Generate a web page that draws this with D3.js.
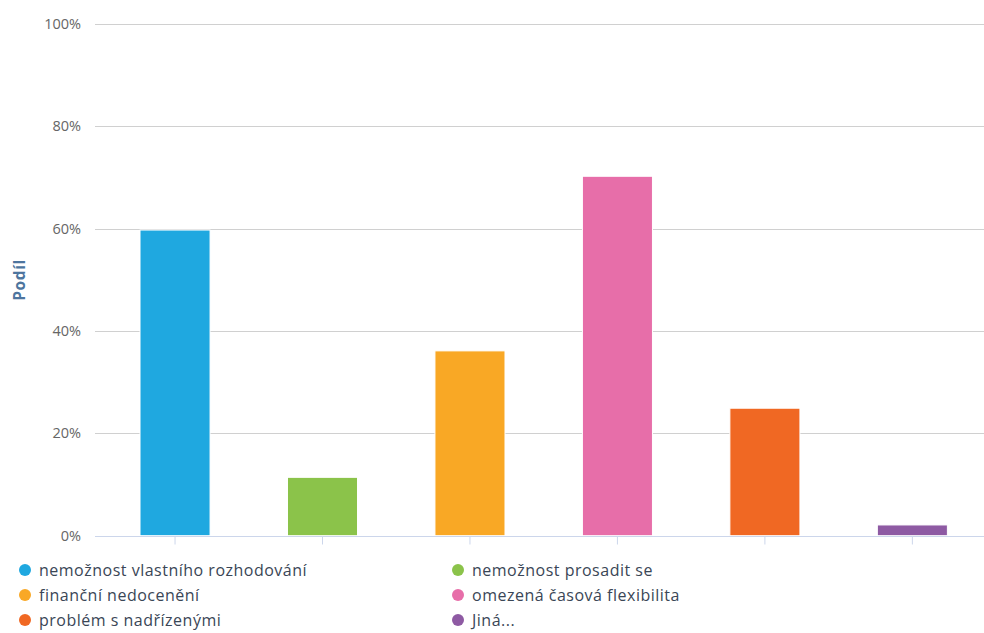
<!DOCTYPE html>
<html>
<head>
<meta charset="utf-8">
<script src="https://cdn.jsdelivr.net/npm/d3@7"></script>
<style>
  html, body { margin: 0; padding: 0; background: #fff; }
  svg { display: block; font-family: "Open Sans", "DejaVu Sans", sans-serif; }
</style>
</head>
<body>
<svg id="chart" width="984" height="633"></svg>
<script>
// Reasons and their shares (percent)
const categories = [
  "nemožnost vlastního rozhodování",
  "nemožnost prosadit se",
  "finanční nedocenění",
  "omezená časová flexibilita",
  "problém s nadřízenými",
  "Jiná..."
];
const shares = [59.7, 11.4, 36.1, 70.2, 24.9, 2.1];
const colors = ["#1fa8e0", "#8bc34a", "#f9a825", "#e76ea9", "#f06823", "#8e5aa3"];
const yTicks = [0, 20, 40, 60, 80, 100];
const yTitle = "Podíl";

const svg = d3.select("#chart");
const plot = { left: 101.3, right: 986.1, top: 23.7, bottom: 535.7 };
const gridLeft = 95;

const x = d3.scaleBand()
  .domain(categories)
  .range([plot.left, plot.right])
  .paddingInner(0.525)
  .paddingOuter(0.2625);

const y = d3.scaleLinear().domain([0, 100]).range([plot.bottom, plot.top]);

// Horizontal gridlines with percent labels
const yAxis = svg.append("g");
yTicks.filter(t => t > 0).forEach(t => {
  yAxis.append("line")
    .attr("x1", gridLeft).attr("x2", 984)
    .attr("y1", Math.round(y(t)) + 0.5).attr("y2", Math.round(y(t)) + 0.5)
    .attr("stroke", "#d0d0d0").attr("stroke-width", 1.2);
});
yTicks.forEach(t => {
  yAxis.append("text")
    .attr("x", 81).attr("y", y(t) + 5)
    .attr("text-anchor", "end")
    .attr("font-size", 14.5)
    .attr("fill", "#666")
    .text(d3.format("d")(t) + "%");
});

// Axis title
svg.append("text")
  .attr("transform", `translate(25, 280) rotate(-90)`)
  .attr("text-anchor", "middle")
  .attr("font-size", 15.5)
  .attr("font-weight", "bold")
  .attr("letter-spacing", 0.6)
  .attr("fill", "#4d759e")
  .text(yTitle);

// Bars
svg.append("g").selectAll("rect")
  .data(categories)
  .join("rect")
  .attr("x", d => x(d))
  .attr("width", x.bandwidth())
  .attr("y", (d, i) => y(shares[i]))
  .attr("height", (d, i) => y(0) - y(shares[i]))
  .attr("fill", (d, i) => colors[i])
  .attr("stroke", "#fff")
  .attr("stroke-width", 1);

// X axis baseline and ticks
const xAxis = svg.append("g")
  .attr("transform", `translate(0, ${Math.round(plot.bottom) + 0.5})`)
  .call(d3.axisBottom(x).tickSize(8).tickFormat(""));
xAxis.select(".domain").attr("d", `M${gridLeft},0H984`).attr("stroke", "#ccd6eb");
xAxis.selectAll(".tick line").attr("stroke", "#ccd6eb");

// Legend: two columns, three rows
const legend = svg.append("g");
categories.forEach((c, i) => {
  const col = i % 2, row = Math.floor(i / 2);
  const gx = col === 0 ? 25 : 458;
  const gy = 570 + row * 25;
  const g = legend.append("g").attr("transform", `translate(${gx}, ${gy})`);
  g.append("circle").attr("r", 6).attr("fill", colors[i]);
  g.append("text")
    .attr("x", 14).attr("y", 6)
    .attr("font-size", 16)
    .attr("letter-spacing", 0.5)
    .attr("fill", "#3a4656")
    .text(c);
});
</script>
</body>
</html>
